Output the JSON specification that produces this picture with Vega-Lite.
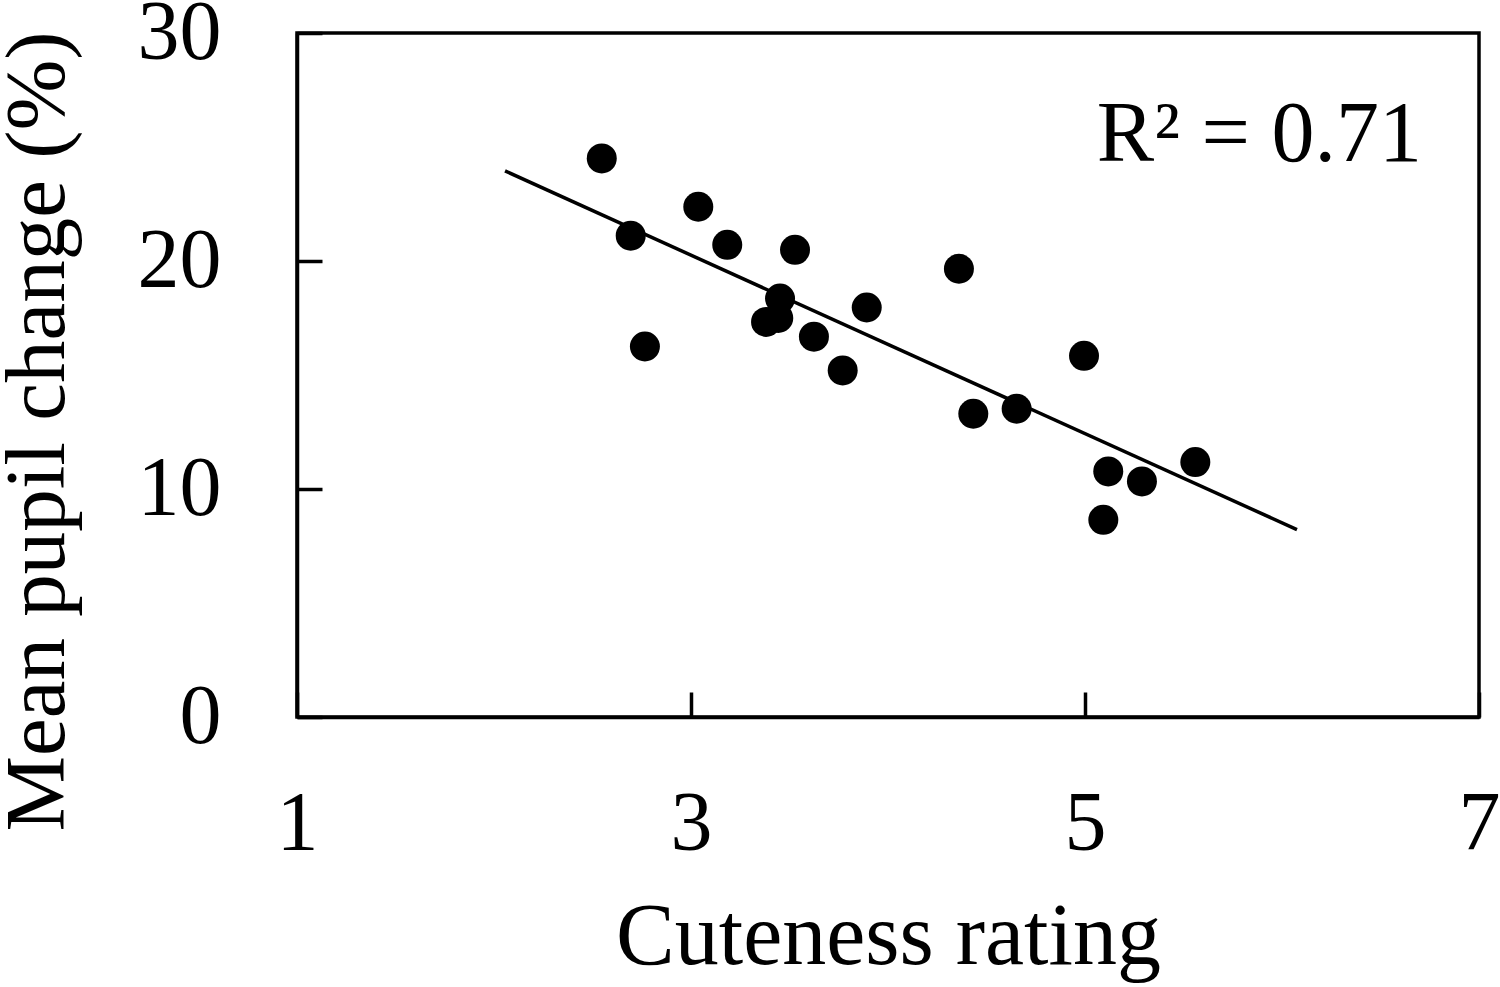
{
  "$schema": "https://vega.github.io/schema/vega-lite/v6.json",
  "width": 1182,
  "height": 684,
  "autosize": {"type": "none"},
  "padding": {"left": 297, "top": 33, "right": 21, "bottom": 270},
  "background": "white",
  "datasets": {
    "points": [
      {"rating": 2.547, "pupil": 24.50},
      {"rating": 2.694, "pupil": 21.11},
      {"rating": 2.766, "pupil": 16.25},
      {"rating": 3.037, "pupil": 22.38},
      {"rating": 3.184, "pupil": 20.71},
      {"rating": 3.528, "pupil": 20.49},
      {"rating": 3.452, "pupil": 18.35},
      {"rating": 3.381, "pupil": 17.33},
      {"rating": 3.443, "pupil": 17.50},
      {"rating": 3.624, "pupil": 16.68},
      {"rating": 3.770, "pupil": 15.20},
      {"rating": 3.892, "pupil": 17.96},
      {"rating": 4.360, "pupil": 19.66},
      {"rating": 4.433, "pupil": 13.30},
      {"rating": 4.653, "pupil": 13.52},
      {"rating": 4.995, "pupil": 15.84},
      {"rating": 5.118, "pupil": 10.77},
      {"rating": 5.289, "pupil": 10.33},
      {"rating": 5.560, "pupil": 11.18},
      {"rating": 5.093, "pupil": 8.65}
    ],
    "fit": [
      {"rating": 2.056, "pupil": 23.95},
      {"rating": 6.076, "pupil": 8.22}
    ],
    "note": [
      {"rating": 5.06, "pupil": 24.4, "label": "R² = 0.71"}
    ]
  },
  "config": {
    "font": "Liberation Serif",
    "view": {"stroke": "black", "strokeWidth": 3.5},
    "axis": {
      "grid": false,
      "domainColor": "black",
      "domainWidth": 3.5,
      "tickColor": "black",
      "tickWidth": 3.5,
      "tickSize": -25,
      "labelFont": "Liberation Serif",
      "labelFontSize": 84,
      "labelColor": "black",
      "titleFont": "Liberation Serif",
      "titleFontSize": 88,
      "titleFontWeight": "normal",
      "titleColor": "black"
    }
  },
  "layer": [
    {
      "data": {"name": "points"},
      "mark": {"type": "point", "shape": "circle", "filled": true, "color": "black", "opacity": 1, "size": 900},
      "encoding": {
        "x": {
          "field": "rating",
          "type": "quantitative",
          "scale": {"domain": [1, 7], "nice": false, "zero": false},
          "axis": {
            "title": "Cuteness rating",
            "values": [1, 3, 5, 7],
            "format": "d",
            "labelPadding": 91,
            "labelFlush": false,
            "titleY": 246,
            "titleBaseline": "alphabetic"
          }
        },
        "y": {
          "field": "pupil",
          "type": "quantitative",
          "scale": {"domain": [0, 30], "nice": false},
          "axis": {
            "title": "Mean pupil change (%)",
            "values": [0, 10, 20, 30],
            "format": "d",
            "labelPadding": 101,
            "labelFlush": false,
            "titleFontSize": 85,
            "titleX": -234,
            "titleY": 398,
            "titleBaseline": "alphabetic"
          }
        }
      }
    },
    {
      "data": {"name": "fit"},
      "mark": {"type": "line", "color": "black", "strokeWidth": 3.5},
      "encoding": {
        "x": {"field": "rating", "type": "quantitative"},
        "y": {"field": "pupil", "type": "quantitative"}
      }
    },
    {
      "data": {"name": "note"},
      "mark": {"type": "text", "align": "left", "baseline": "alphabetic", "fontSize": 86, "font": "Liberation Serif", "color": "black"},
      "encoding": {
        "x": {"field": "rating", "type": "quantitative"},
        "y": {"field": "pupil", "type": "quantitative"},
        "text": {"field": "label"}
      }
    }
  ]
}
